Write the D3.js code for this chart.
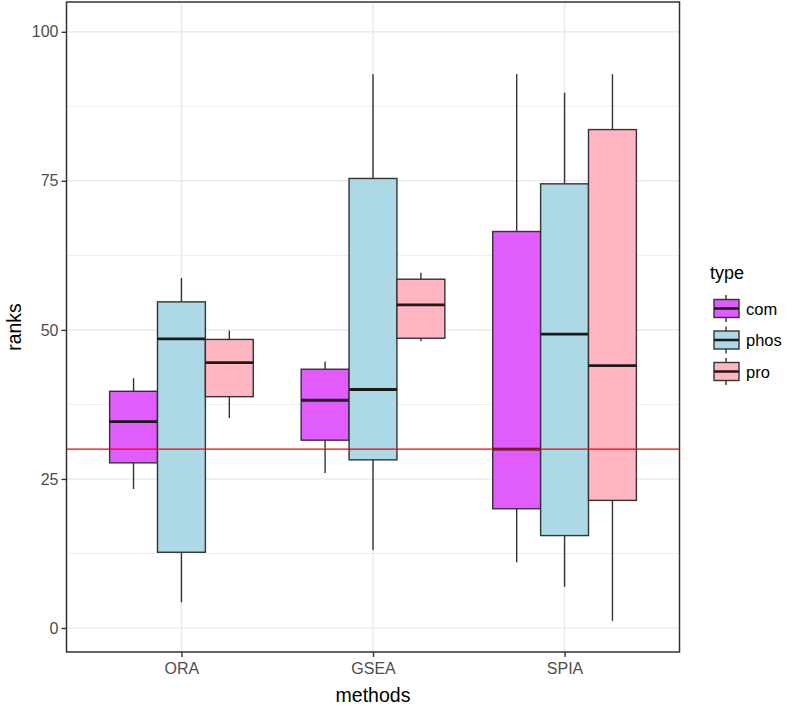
<!DOCTYPE html>
<html><head><meta charset="utf-8">
<script src="https://cdn.jsdelivr.net/npm/d3@7"></script>
<style>body{margin:0;background:#fff}svg{display:block}</style>
</head><body><svg id="c" width="787" height="705"></svg>
<script>
const methods = ["ORA", "GSEA", "SPIA"];
const types = ["com", "phos", "pro"];
const typeColors = ["#E05CFC", "#ADD8E6", "#FFB6C1"];
// [whisker low, lower hinge, median, upper hinge, whisker high] per method
const comStats  = [[23.3, 27.7, 34.6, 39.7, 41.9], [26.0, 31.5, 38.2, 43.4, 44.7], [11.0, 20.0, 30.0, 66.5, 92.9]];
const phosStats = [[4.3, 12.7, 48.5, 54.7, 58.7], [13.1, 28.2, 40.0, 75.4, 92.9], [6.9, 15.5, 49.3, 74.5, 89.8]];
const proStats  = [[35.2, 38.8, 44.5, 48.4, 49.9], [48.1, 48.6, 54.2, 58.5, 59.6], [1.2, 21.4, 44.0, 83.6, 92.9]];
const yTicks = [0, 25, 50, 75, 100];
const yMinor = [12.5, 37.5, 62.5, 87.5];
const refLine = 30;

const allStats = [comStats, phosStats, proStats];
const svg = d3.select("#c");
const L = 66.5, R = 679.5, T = 2, B = 652;
const y = d3.scaleLinear().domain([-4.03, 105]).range([B, T]);
const x = d3.scaleLinear().domain([0.4, 3.6]).range([L, R]);
const dodge = 0.75, bw = dodge / 3;

const g = svg.append("g");
// grid
g.selectAll(".ymin").data(yMinor).join("line")
  .attr("x1", L).attr("x2", R).attr("y1", d => y(d)).attr("y2", d => y(d))
  .attr("stroke", "#ebebeb").attr("stroke-width", 0.8);
g.selectAll(".ymaj").data(yTicks).join("line")
  .attr("x1", L).attr("x2", R).attr("y1", d => y(d)).attr("y2", d => y(d))
  .attr("stroke", "#ebebeb").attr("stroke-width", 1.5);
g.selectAll(".xmaj").data(methods).join("line")
  .attr("x1", (d, i) => x(i + 1)).attr("x2", (d, i) => x(i + 1)).attr("y1", T).attr("y2", B)
  .attr("stroke", "#ebebeb").attr("stroke-width", 1.5);

// boxes
const boxes = [];
allStats.forEach((ser, t) => ser.forEach((s, m) => boxes.push({t, m, s})));
const bg = g.selectAll(".box").data(boxes).join("g");
const cx = d => x(d.m + 1 - dodge / 2 + bw * (d.t + 0.5));
bg.append("line").attr("x1", cx).attr("x2", cx)
  .attr("y1", d => y(d.s[4])).attr("y2", d => y(d.s[3]))
  .attr("stroke", "#333").attr("stroke-width", 1.4);
bg.append("line").attr("x1", cx).attr("x2", cx)
  .attr("y1", d => y(d.s[1])).attr("y2", d => y(d.s[0]))
  .attr("stroke", "#333").attr("stroke-width", 1.4);
bg.append("rect")
  .attr("x", d => x(d.m + 1 - dodge / 2 + bw * d.t))
  .attr("width", x(bw) - x(0))
  .attr("y", d => y(d.s[3])).attr("height", d => y(d.s[1]) - y(d.s[3]))
  .attr("fill", d => typeColors[d.t]).attr("stroke", "#333").attr("stroke-width", 1.4);
bg.append("line")
  .attr("x1", d => x(d.m + 1 - dodge / 2 + bw * d.t))
  .attr("x2", d => x(d.m + 1 - dodge / 2 + bw * (d.t + 1)))
  .attr("y1", d => y(d.s[2])).attr("y2", d => y(d.s[2]))
  .attr("stroke", "#1a1a1a").attr("stroke-width", 2.8);

// reference line
g.append("line").attr("x1", L).attr("x2", R).attr("y1", y(refLine)).attr("y2", y(refLine))
  .attr("stroke", "#FF0000").attr("stroke-width", 1.4);

// panel border
g.append("rect").attr("x", L).attr("y", T).attr("width", R - L).attr("height", B - T)
  .attr("fill", "none").attr("stroke", "#333").attr("stroke-width", 1.5);

// axes
const ya = svg.append("g").attr("transform", `translate(${L},0)`)
  .call(d3.axisLeft(y).tickValues(yTicks).tickSize(5).tickPadding(3));
const xa = svg.append("g").attr("transform", `translate(0,${B})`)
  .call(d3.axisBottom(x).tickValues([1, 2, 3]).tickFormat((d) => methods[d - 1]).tickSize(5).tickPadding(6));
[ya, xa].forEach(a => {
  a.select(".domain").remove();
  a.selectAll(".tick line").attr("stroke", "#333").attr("stroke-width", 1.4);
  a.selectAll(".tick text").attr("fill", "#4d4d4d").style("font-family", "Liberation Sans, Arial, sans-serif").style("font-size", "16px");
});

svg.append("text").attr("x", (L + R) / 2).attr("y", 702)
  .attr("text-anchor", "middle").style("font-family", "Liberation Sans, Arial, sans-serif")
  .style("font-size", "19.5px").attr("fill", "#000").text("methods");
svg.append("text").attr("transform", `translate(21,${(T + B) / 2}) rotate(-90)`)
  .attr("text-anchor", "middle").style("font-family", "Liberation Sans, Arial, sans-serif")
  .style("font-size", "19.5px").attr("fill", "#000").text("ranks");

// legend
const lg = svg.append("g");
lg.append("text").attr("x", 710).attr("y", 279).style("font-family", "Liberation Sans, Arial, sans-serif")
  .style("font-size", "18px").attr("fill", "#000").text("type");
const items = lg.selectAll(".it").data(types).join("g")
  .attr("transform", (d, i) => `translate(713,${295 + i * 31.5})`);
items.append("line").attr("x1", 13).attr("x2", 13).attr("y1", 0).attr("y2", 27)
  .attr("stroke", "#333").attr("stroke-width", 1.4);
items.append("rect").attr("x", 1).attr("y", 4.5).attr("width", 25).attr("height", 18)
  .attr("fill", (d, i) => typeColors[i]).attr("stroke", "#333").attr("stroke-width", 1.4);
items.append("line").attr("x1", 1).attr("x2", 26).attr("y1", 13.5).attr("y2", 13.5)
  .attr("stroke", "#1a1a1a").attr("stroke-width", 2.5);
items.append("text").attr("x", 33).attr("y", 19.5).style("font-family", "Liberation Sans, Arial, sans-serif")
  .style("font-size", "16.5px").attr("fill", "#000").text(d => d);
</script></body></html>
